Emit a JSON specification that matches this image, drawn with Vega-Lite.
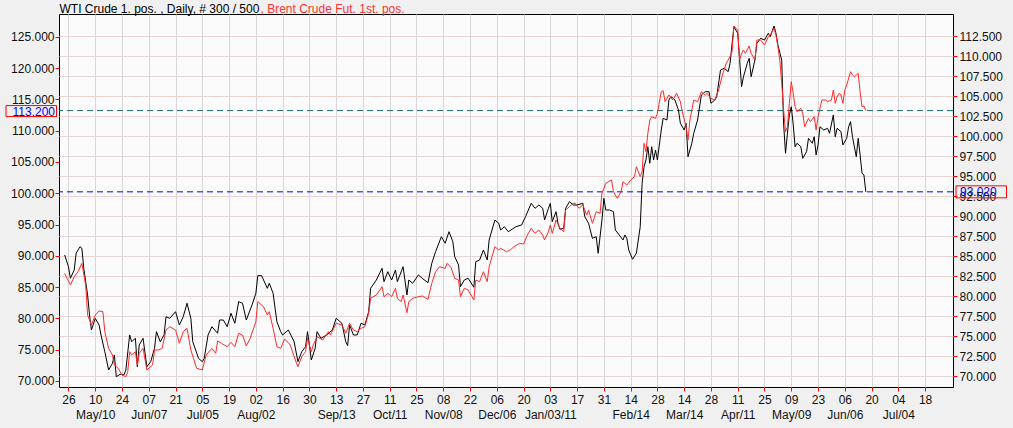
{
  "$schema": "https://vega.github.io/schema/vega-lite/v6.json",
  "width": 894,
  "height": 373,
  "autosize": {"type": "none"},
  "padding": {"left": 59, "top": 14, "right": 60, "bottom": 41},
  "background": "#f0f0f0",
  "config": {
    "view": {"stroke": "#000000", "strokeWidth": 1, "fill": "#fbfbfb"},
    "axis": {
      "labelFont": "Liberation Sans", "labelFontSize": 12, "labelColor": "#111111",
      "titleFont": "Liberation Sans", "titleFontSize": 12, "titleFontWeight": "normal",
      "domain": false, "tickColor": "#ff0000", "tickSize": 4
    }
  },
  "datasets": {
    "last": [
      {"series": "WTI", "price": 93.02},
      {"series": "Brent", "price": 113.2}
    ],
    "wti": [
      {"date": "2010-04-24", "price": 85.13}, {"date": "2010-04-26", "price": 83.66}, {"date": "2010-04-27", "price": 82.21},
      {"date": "2010-04-29", "price": 83.25}, {"date": "2010-04-30", "price": 85.34}, {"date": "2010-05-02", "price": 86.16},
      {"date": "2010-05-03", "price": 85.96}, {"date": "2010-05-04", "price": 83.46}, {"date": "2010-05-06", "price": 80.13},
      {"date": "2010-05-07", "price": 77.63}, {"date": "2010-05-08", "price": 75.75}, {"date": "2010-05-10", "price": 77.21},
      {"date": "2010-05-12", "price": 76.38}, {"date": "2010-05-13", "price": 75.13}, {"date": "2010-05-15", "price": 73.04},
      {"date": "2010-05-17", "price": 70.75}, {"date": "2010-05-19", "price": 71.59}, {"date": "2010-05-20", "price": 72.63},
      {"date": "2010-05-21", "price": 69.91}, {"date": "2010-05-23", "price": 70.21}, {"date": "2010-05-25", "price": 70.13},
      {"date": "2010-05-26", "price": 70.75}, {"date": "2010-05-28", "price": 75.13}, {"date": "2010-05-29", "price": 74.29},
      {"date": "2010-05-31", "price": 74.71}, {"date": "2010-06-01", "price": 71.16}, {"date": "2010-06-02", "price": 73.88},
      {"date": "2010-06-04", "price": 74.71}, {"date": "2010-06-06", "price": 71.16}, {"date": "2010-06-08", "price": 71.79},
      {"date": "2010-06-10", "price": 73.46}, {"date": "2010-06-11", "price": 75.54}, {"date": "2010-06-13", "price": 74.29},
      {"date": "2010-06-15", "price": 75.13}, {"date": "2010-06-16", "price": 77.41}, {"date": "2010-06-18", "price": 77.21},
      {"date": "2010-06-21", "price": 78.04}, {"date": "2010-06-23", "price": 76.38}, {"date": "2010-06-25", "price": 77.41},
      {"date": "2010-06-27", "price": 79.09}, {"date": "2010-06-29", "price": 77.21}, {"date": "2010-06-30", "price": 74.29},
      {"date": "2010-07-03", "price": 72.21}, {"date": "2010-07-05", "price": 71.79}, {"date": "2010-07-06", "price": 72.21},
      {"date": "2010-07-08", "price": 75.13}, {"date": "2010-07-10", "price": 76.16}, {"date": "2010-07-13", "price": 75.34},
      {"date": "2010-07-14", "price": 77.0}, {"date": "2010-07-16", "price": 77.0}, {"date": "2010-07-18", "price": 76.16},
      {"date": "2010-07-20", "price": 77.84}, {"date": "2010-07-22", "price": 76.59}, {"date": "2010-07-24", "price": 79.29},
      {"date": "2010-07-26", "price": 79.09}, {"date": "2010-07-28", "price": 77.0}, {"date": "2010-07-31", "price": 78.88},
      {"date": "2010-08-02", "price": 80.34}, {"date": "2010-08-03", "price": 82.54}, {"date": "2010-08-05", "price": 82.54},
      {"date": "2010-08-08", "price": 80.96}, {"date": "2010-08-09", "price": 81.59}, {"date": "2010-08-11", "price": 80.34},
      {"date": "2010-08-13", "price": 76.79}, {"date": "2010-08-15", "price": 75.54}, {"date": "2010-08-16", "price": 75.13},
      {"date": "2010-08-19", "price": 75.75}, {"date": "2010-08-22", "price": 74.29}, {"date": "2010-08-24", "price": 71.79},
      {"date": "2010-08-26", "price": 73.04}, {"date": "2010-08-28", "price": 73.66}, {"date": "2010-08-29", "price": 75.54},
      {"date": "2010-08-30", "price": 73.88}, {"date": "2010-08-31", "price": 72.0}, {"date": "2010-09-02", "price": 73.46},
      {"date": "2010-09-03", "price": 75.54}, {"date": "2010-09-05", "price": 74.71}, {"date": "2010-09-08", "price": 75.13},
      {"date": "2010-09-11", "price": 75.75}, {"date": "2010-09-13", "price": 77.21}, {"date": "2010-09-16", "price": 76.59},
      {"date": "2010-09-18", "price": 74.29}, {"date": "2010-09-19", "price": 73.79}, {"date": "2010-09-20", "price": 76.38},
      {"date": "2010-09-22", "price": 75.13}, {"date": "2010-09-24", "price": 75.13}, {"date": "2010-09-26", "price": 76.59},
      {"date": "2010-09-28", "price": 76.38}, {"date": "2010-09-30", "price": 78.04}, {"date": "2010-10-01", "price": 80.96},
      {"date": "2010-10-04", "price": 82.0}, {"date": "2010-10-07", "price": 83.46}, {"date": "2010-10-08", "price": 81.79},
      {"date": "2010-10-10", "price": 83.04}, {"date": "2010-10-12", "price": 82.0}, {"date": "2010-10-14", "price": 83.25},
      {"date": "2010-10-15", "price": 81.79}, {"date": "2010-10-18", "price": 83.66}, {"date": "2010-10-20", "price": 80.13},
      {"date": "2010-10-21", "price": 82.0}, {"date": "2010-10-23", "price": 81.59}, {"date": "2010-10-26", "price": 82.63},
      {"date": "2010-10-28", "price": 82.21}, {"date": "2010-10-31", "price": 81.66}, {"date": "2010-11-02", "price": 84.09},
      {"date": "2010-11-04", "price": 85.54}, {"date": "2010-11-07", "price": 87.41}, {"date": "2010-11-09", "price": 86.59},
      {"date": "2010-11-11", "price": 88.04}, {"date": "2010-11-13", "price": 86.79}, {"date": "2010-11-14", "price": 84.91},
      {"date": "2010-11-16", "price": 83.88}, {"date": "2010-11-17", "price": 81.16}, {"date": "2010-11-19", "price": 82.0},
      {"date": "2010-11-21", "price": 82.21}, {"date": "2010-11-24", "price": 81.09}, {"date": "2010-11-25", "price": 84.29},
      {"date": "2010-11-27", "price": 84.5}, {"date": "2010-11-29", "price": 85.75}, {"date": "2010-12-01", "price": 84.5},
      {"date": "2010-12-02", "price": 87.0}, {"date": "2010-12-05", "price": 89.5}, {"date": "2010-12-07", "price": 89.09},
      {"date": "2010-12-08", "price": 88.25}, {"date": "2010-12-10", "price": 88.66}, {"date": "2010-12-12", "price": 88.04},
      {"date": "2010-12-14", "price": 88.34}, {"date": "2010-12-16", "price": 88.66}, {"date": "2010-12-19", "price": 88.88},
      {"date": "2010-12-21", "price": 89.91}, {"date": "2010-12-24", "price": 91.59}, {"date": "2010-12-26", "price": 90.96},
      {"date": "2010-12-28", "price": 91.38}, {"date": "2010-12-30", "price": 90.96}, {"date": "2010-12-31", "price": 89.5},
      {"date": "2011-01-02", "price": 90.96}, {"date": "2011-01-03", "price": 91.59}, {"date": "2011-01-04", "price": 89.29},
      {"date": "2011-01-06", "price": 90.54}, {"date": "2011-01-07", "price": 89.09}, {"date": "2011-01-08", "price": 88.34},
      {"date": "2011-01-10", "price": 88.46}, {"date": "2011-01-11", "price": 90.96}, {"date": "2011-01-13", "price": 91.79},
      {"date": "2011-01-15", "price": 91.38}, {"date": "2011-01-17", "price": 91.38}, {"date": "2011-01-20", "price": 91.59},
      {"date": "2011-01-21", "price": 89.91}, {"date": "2011-01-23", "price": 89.09}, {"date": "2011-01-25", "price": 87.21},
      {"date": "2011-01-27", "price": 87.41}, {"date": "2011-01-28", "price": 85.34}, {"date": "2011-01-30", "price": 89.5},
      {"date": "2011-01-31", "price": 92.21}, {"date": "2011-02-01", "price": 90.75}, {"date": "2011-02-03", "price": 90.75},
      {"date": "2011-02-05", "price": 90.54}, {"date": "2011-02-06", "price": 88.25}, {"date": "2011-02-08", "price": 87.63},
      {"date": "2011-02-10", "price": 87.0}, {"date": "2011-02-11", "price": 87.63}, {"date": "2011-02-12", "price": 87.21},
      {"date": "2011-02-13", "price": 85.75}, {"date": "2011-02-15", "price": 84.59}, {"date": "2011-02-17", "price": 85.34},
      {"date": "2011-02-19", "price": 88.66}, {"date": "2011-02-20", "price": 94.09}, {"date": "2011-02-21", "price": 96.16},
      {"date": "2011-02-22", "price": 97.0}, {"date": "2011-02-23", "price": 98.66}, {"date": "2011-02-24", "price": 96.59},
      {"date": "2011-02-25", "price": 98.66}, {"date": "2011-02-26", "price": 97.0}, {"date": "2011-02-27", "price": 98.25},
      {"date": "2011-02-28", "price": 97.0}, {"date": "2011-03-02", "price": 100.75}, {"date": "2011-03-03", "price": 102.21},
      {"date": "2011-03-05", "price": 102.0}, {"date": "2011-03-06", "price": 104.5}, {"date": "2011-03-07", "price": 104.91},
      {"date": "2011-03-09", "price": 104.59}, {"date": "2011-03-11", "price": 103.25}, {"date": "2011-03-12", "price": 101.59},
      {"date": "2011-03-14", "price": 100.75}, {"date": "2011-03-15", "price": 101.59}, {"date": "2011-03-16", "price": 97.41},
      {"date": "2011-03-18", "price": 99.09}, {"date": "2011-03-19", "price": 100.34}, {"date": "2011-03-21", "price": 102.0},
      {"date": "2011-03-23", "price": 105.13}, {"date": "2011-03-25", "price": 105.54}, {"date": "2011-03-27", "price": 105.54},
      {"date": "2011-03-28", "price": 104.09}, {"date": "2011-03-30", "price": 104.5}, {"date": "2011-03-31", "price": 104.91},
      {"date": "2011-04-02", "price": 108.25}, {"date": "2011-04-04", "price": 108.46}, {"date": "2011-04-06", "price": 108.04},
      {"date": "2011-04-07", "price": 109.09}, {"date": "2011-04-09", "price": 113.66}, {"date": "2011-04-11", "price": 112.84},
      {"date": "2011-04-12", "price": 109.5}, {"date": "2011-04-13", "price": 106.16}, {"date": "2011-04-14", "price": 107.41},
      {"date": "2011-04-16", "price": 109.09}, {"date": "2011-04-17", "price": 109.71}, {"date": "2011-04-18", "price": 107.41},
      {"date": "2011-04-20", "price": 109.5}, {"date": "2011-04-21", "price": 111.59}, {"date": "2011-04-23", "price": 112.21},
      {"date": "2011-04-25", "price": 112.0}, {"date": "2011-04-27", "price": 112.84}, {"date": "2011-04-28", "price": 112.41},
      {"date": "2011-04-30", "price": 113.75}, {"date": "2011-05-01", "price": 112.84}, {"date": "2011-05-02", "price": 111.38},
      {"date": "2011-05-04", "price": 109.5}, {"date": "2011-05-05", "price": 101.5}, {"date": "2011-05-06", "price": 97.84},
      {"date": "2011-05-07", "price": 100.34}, {"date": "2011-05-08", "price": 102.63}, {"date": "2011-05-09", "price": 103.66},
      {"date": "2011-05-10", "price": 101.5}, {"date": "2011-05-11", "price": 98.66}, {"date": "2011-05-12", "price": 99.09},
      {"date": "2011-05-14", "price": 98.66}, {"date": "2011-05-15", "price": 97.21}, {"date": "2011-05-17", "price": 98.04},
      {"date": "2011-05-18", "price": 99.71}, {"date": "2011-05-20", "price": 99.09}, {"date": "2011-05-21", "price": 99.91},
      {"date": "2011-05-22", "price": 97.63}, {"date": "2011-05-23", "price": 98.88}, {"date": "2011-05-24", "price": 101.16},
      {"date": "2011-05-26", "price": 100.75}, {"date": "2011-05-28", "price": 100.96}, {"date": "2011-05-29", "price": 100.34},
      {"date": "2011-05-31", "price": 102.63}, {"date": "2011-06-01", "price": 99.91}, {"date": "2011-06-02", "price": 100.96},
      {"date": "2011-06-04", "price": 100.54}, {"date": "2011-06-05", "price": 98.88}, {"date": "2011-06-07", "price": 99.71},
      {"date": "2011-06-08", "price": 101.16}, {"date": "2011-06-09", "price": 101.79}, {"date": "2011-06-10", "price": 99.91},
      {"date": "2011-06-12", "price": 97.41}, {"date": "2011-06-13", "price": 99.71}, {"date": "2011-06-14", "price": 97.63},
      {"date": "2011-06-15", "price": 95.34}, {"date": "2011-06-16", "price": 95.13}, {"date": "2011-06-17", "price": 93.02}
    ],
    "brent": [
      {"date": "2010-04-24", "price": 87.2}, {"date": "2010-04-27", "price": 85.34}, {"date": "2010-04-29", "price": 86.66},
      {"date": "2010-05-01", "price": 87.46}, {"date": "2010-05-03", "price": 88.8}, {"date": "2010-05-05", "price": 85.34},
      {"date": "2010-05-06", "price": 80.54}, {"date": "2010-05-08", "price": 78.95}, {"date": "2010-05-10", "price": 80.54},
      {"date": "2010-05-12", "price": 81.18}, {"date": "2010-05-14", "price": 81.07}, {"date": "2010-05-15", "price": 77.88},
      {"date": "2010-05-17", "price": 75.22}, {"date": "2010-05-19", "price": 74.15}, {"date": "2010-05-20", "price": 72.56},
      {"date": "2010-05-22", "price": 72.03}, {"date": "2010-05-24", "price": 70.96}, {"date": "2010-05-26", "price": 70.69},
      {"date": "2010-05-27", "price": 71.49}, {"date": "2010-05-28", "price": 74.68}, {"date": "2010-05-29", "price": 74.15},
      {"date": "2010-05-31", "price": 74.68}, {"date": "2010-06-01", "price": 72.56}, {"date": "2010-06-02", "price": 74.42},
      {"date": "2010-06-04", "price": 75.22}, {"date": "2010-06-06", "price": 71.76}, {"date": "2010-06-09", "price": 72.56},
      {"date": "2010-06-10", "price": 74.95}, {"date": "2010-06-12", "price": 74.95}, {"date": "2010-06-14", "price": 75.22},
      {"date": "2010-06-16", "price": 78.15}, {"date": "2010-06-18", "price": 78.67}, {"date": "2010-06-21", "price": 78.15},
      {"date": "2010-06-23", "price": 76.02}, {"date": "2010-06-25", "price": 77.88}, {"date": "2010-06-27", "price": 78.42},
      {"date": "2010-06-29", "price": 74.95}, {"date": "2010-07-02", "price": 72.03}, {"date": "2010-07-05", "price": 71.76},
      {"date": "2010-07-07", "price": 74.15}, {"date": "2010-07-10", "price": 75.22}, {"date": "2010-07-12", "price": 74.42},
      {"date": "2010-07-13", "price": 76.39}, {"date": "2010-07-15", "price": 76.02}, {"date": "2010-07-18", "price": 75.48},
      {"date": "2010-07-20", "price": 76.18}, {"date": "2010-07-22", "price": 75.48}, {"date": "2010-07-24", "price": 77.62},
      {"date": "2010-07-26", "price": 77.35}, {"date": "2010-07-28", "price": 75.59}, {"date": "2010-07-30", "price": 76.82},
      {"date": "2010-08-02", "price": 79.47}, {"date": "2010-08-03", "price": 82.67}, {"date": "2010-08-06", "price": 81.87},
      {"date": "2010-08-08", "price": 80.54}, {"date": "2010-08-09", "price": 81.07}, {"date": "2010-08-11", "price": 78.42},
      {"date": "2010-08-13", "price": 75.48}, {"date": "2010-08-15", "price": 75.22}, {"date": "2010-08-17", "price": 76.71},
      {"date": "2010-08-20", "price": 75.75}, {"date": "2010-08-22", "price": 73.88}, {"date": "2010-08-24", "price": 72.28},
      {"date": "2010-08-26", "price": 73.88}, {"date": "2010-08-28", "price": 74.68}, {"date": "2010-08-29", "price": 76.82},
      {"date": "2010-08-31", "price": 74.68}, {"date": "2010-09-01", "price": 75.75}, {"date": "2010-09-03", "price": 77.08},
      {"date": "2010-09-06", "price": 76.55}, {"date": "2010-09-09", "price": 77.88}, {"date": "2010-09-10", "price": 77.35},
      {"date": "2010-09-13", "price": 79.22}, {"date": "2010-09-16", "price": 78.95}, {"date": "2010-09-18", "price": 77.62},
      {"date": "2010-09-20", "price": 79.22}, {"date": "2010-09-22", "price": 78.15}, {"date": "2010-09-24", "price": 77.88},
      {"date": "2010-09-26", "price": 78.42}, {"date": "2010-09-28", "price": 78.67}, {"date": "2010-09-30", "price": 80.81},
      {"date": "2010-10-01", "price": 83.21}, {"date": "2010-10-04", "price": 83.74}, {"date": "2010-10-07", "price": 85.06},
      {"date": "2010-10-08", "price": 83.47}, {"date": "2010-10-10", "price": 84.01}, {"date": "2010-10-12", "price": 83.47},
      {"date": "2010-10-14", "price": 84.81}, {"date": "2010-10-15", "price": 83.21}, {"date": "2010-10-17", "price": 82.67},
      {"date": "2010-10-18", "price": 83.74}, {"date": "2010-10-20", "price": 80.91}, {"date": "2010-10-21", "price": 82.67},
      {"date": "2010-10-23", "price": 83.21}, {"date": "2010-10-26", "price": 83.47}, {"date": "2010-10-28", "price": 83.58},
      {"date": "2010-10-31", "price": 83.05}, {"date": "2010-11-02", "price": 85.61}, {"date": "2010-11-04", "price": 87.46},
      {"date": "2010-11-06", "price": 88.26}, {"date": "2010-11-09", "price": 88.0}, {"date": "2010-11-10", "price": 88.8},
      {"date": "2010-11-12", "price": 88.16}, {"date": "2010-11-14", "price": 86.41}, {"date": "2010-11-16", "price": 86.13},
      {"date": "2010-11-17", "price": 83.47}, {"date": "2010-11-19", "price": 84.81}, {"date": "2010-11-21", "price": 84.54},
      {"date": "2010-11-24", "price": 82.94}, {"date": "2010-11-25", "price": 86.13}, {"date": "2010-11-27", "price": 85.86},
      {"date": "2010-11-29", "price": 87.46}, {"date": "2010-12-01", "price": 85.86}, {"date": "2010-12-02", "price": 88.26},
      {"date": "2010-12-05", "price": 91.45}, {"date": "2010-12-07", "price": 90.93}, {"date": "2010-12-08", "price": 91.2},
      {"date": "2010-12-11", "price": 90.65}, {"date": "2010-12-13", "price": 90.93}, {"date": "2010-12-15", "price": 91.45},
      {"date": "2010-12-18", "price": 92.0}, {"date": "2010-12-20", "price": 91.88}, {"date": "2010-12-22", "price": 93.32},
      {"date": "2010-12-24", "price": 94.39}, {"date": "2010-12-26", "price": 93.59}, {"date": "2010-12-28", "price": 94.12},
      {"date": "2010-12-30", "price": 93.32}, {"date": "2010-12-31", "price": 92.52}, {"date": "2011-01-02", "price": 93.85},
      {"date": "2011-01-03", "price": 94.92}, {"date": "2011-01-04", "price": 93.59}, {"date": "2011-01-06", "price": 95.72},
      {"date": "2011-01-08", "price": 94.39}, {"date": "2011-01-10", "price": 93.85}, {"date": "2011-01-11", "price": 97.32},
      {"date": "2011-01-13", "price": 97.84}, {"date": "2011-01-15", "price": 98.39}, {"date": "2011-01-16", "price": 98.39},
      {"date": "2011-01-18", "price": 97.59}, {"date": "2011-01-20", "price": 98.12}, {"date": "2011-01-22", "price": 96.52},
      {"date": "2011-01-23", "price": 97.32}, {"date": "2011-01-25", "price": 95.19}, {"date": "2011-01-27", "price": 97.04},
      {"date": "2011-01-29", "price": 96.79}, {"date": "2011-01-30", "price": 99.98}, {"date": "2011-02-01", "price": 101.58},
      {"date": "2011-02-04", "price": 102.11}, {"date": "2011-02-05", "price": 100.24}, {"date": "2011-02-07", "price": 99.19},
      {"date": "2011-02-09", "price": 100.24}, {"date": "2011-02-10", "price": 101.84}, {"date": "2011-02-12", "price": 101.31},
      {"date": "2011-02-14", "price": 102.11}, {"date": "2011-02-16", "price": 102.64}, {"date": "2011-02-17", "price": 104.23},
      {"date": "2011-02-19", "price": 102.64}, {"date": "2011-02-20", "price": 103.43}, {"date": "2011-02-21", "price": 107.97},
      {"date": "2011-02-22", "price": 106.63}, {"date": "2011-02-23", "price": 109.57}, {"date": "2011-02-24", "price": 111.69},
      {"date": "2011-02-25", "price": 112.22}, {"date": "2011-02-27", "price": 111.96}, {"date": "2011-02-28", "price": 112.76},
      {"date": "2011-03-02", "price": 116.21}, {"date": "2011-03-03", "price": 116.37}, {"date": "2011-03-04", "price": 114.62},
      {"date": "2011-03-06", "price": 115.69}, {"date": "2011-03-08", "price": 114.89}, {"date": "2011-03-10", "price": 115.96},
      {"date": "2011-03-12", "price": 114.62}, {"date": "2011-03-13", "price": 113.02}, {"date": "2011-03-15", "price": 110.62},
      {"date": "2011-03-16", "price": 108.5}, {"date": "2011-03-17", "price": 111.69}, {"date": "2011-03-19", "price": 114.89},
      {"date": "2011-03-21", "price": 114.62}, {"date": "2011-03-23", "price": 116.21}, {"date": "2011-03-25", "price": 115.69},
      {"date": "2011-03-26", "price": 115.96}, {"date": "2011-03-28", "price": 115.16}, {"date": "2011-03-30", "price": 114.89},
      {"date": "2011-04-01", "price": 116.49}, {"date": "2011-04-03", "price": 118.88}, {"date": "2011-04-05", "price": 120.75},
      {"date": "2011-04-07", "price": 121.81}, {"date": "2011-04-08", "price": 122.6}, {"date": "2011-04-09", "price": 126.71},
      {"date": "2011-04-11", "price": 126.07}, {"date": "2011-04-12", "price": 121.28}, {"date": "2011-04-13", "price": 122.35},
      {"date": "2011-04-14", "price": 122.88}, {"date": "2011-04-15", "price": 122.35}, {"date": "2011-04-17", "price": 123.51},
      {"date": "2011-04-18", "price": 122.35}, {"date": "2011-04-20", "price": 121.28}, {"date": "2011-04-21", "price": 124.47},
      {"date": "2011-04-23", "price": 124.47}, {"date": "2011-04-25", "price": 123.67}, {"date": "2011-04-27", "price": 125.0},
      {"date": "2011-04-28", "price": 125.27}, {"date": "2011-04-30", "price": 126.34}, {"date": "2011-05-01", "price": 125.27},
      {"date": "2011-05-02", "price": 123.4}, {"date": "2011-05-03", "price": 121.28}, {"date": "2011-05-04", "price": 117.56},
      {"date": "2011-05-05", "price": 113.29}, {"date": "2011-05-06", "price": 109.82}, {"date": "2011-05-07", "price": 110.62},
      {"date": "2011-05-08", "price": 114.36}, {"date": "2011-05-09", "price": 117.81}, {"date": "2011-05-10", "price": 115.96},
      {"date": "2011-05-11", "price": 113.82}, {"date": "2011-05-12", "price": 113.02}, {"date": "2011-05-14", "price": 113.56},
      {"date": "2011-05-15", "price": 112.76}, {"date": "2011-05-16", "price": 110.62}, {"date": "2011-05-18", "price": 111.96},
      {"date": "2011-05-19", "price": 111.42}, {"date": "2011-05-21", "price": 112.22}, {"date": "2011-05-22", "price": 110.1},
      {"date": "2011-05-23", "price": 112.22}, {"date": "2011-05-25", "price": 114.89}, {"date": "2011-05-27", "price": 114.89},
      {"date": "2011-05-28", "price": 114.62}, {"date": "2011-05-30", "price": 114.89}, {"date": "2011-05-31", "price": 116.49},
      {"date": "2011-06-01", "price": 114.36}, {"date": "2011-06-02", "price": 115.42}, {"date": "2011-06-03", "price": 115.96},
      {"date": "2011-06-04", "price": 115.69}, {"date": "2011-06-05", "price": 114.36}, {"date": "2011-06-06", "price": 116.49},
      {"date": "2011-06-07", "price": 117.28}, {"date": "2011-06-09", "price": 119.41}, {"date": "2011-06-10", "price": 118.88},
      {"date": "2011-06-11", "price": 118.61}, {"date": "2011-06-13", "price": 119.15}, {"date": "2011-06-14", "price": 116.21},
      {"date": "2011-06-15", "price": 113.82}, {"date": "2011-06-16", "price": 113.93}, {"date": "2011-06-17", "price": 113.2}
    ]
  },
  "layer": [
    {
      "data": {"name": "last"},
      "transform": [{"filter": "datum.series == 'WTI'"}],
      "mark": {"type": "rule", "color": "#0000ff", "strokeWidth": 1, "strokeDash": [6, 4]},
      "encoding": {
        "y": {"field": "price", "type": "quantitative", "scale": {"domain": [68.625, 115.25], "nice": false, "zero": false}, "axis": null}
      }
    },
    {
      "data": {"name": "last"},
      "transform": [{"filter": "datum.series == 'Brent'"}],
      "mark": {"type": "rule", "color": "#1f6b6b", "strokeWidth": 1, "strokeDash": [6, 4]},
      "encoding": {
        "y": {"field": "price", "type": "quantitative", "scale": {"domain": [69.04, 128.63], "nice": false, "zero": false}, "axis": null}
      }
    },
    {
      "data": {"name": "wti"},
      "mark": {"type": "line", "color": "#000000", "strokeWidth": 1},
      "encoding": {
        "x": {
          "field": "date", "type": "temporal",
          "scale": {"type": "utc", "domain": [1271811600000, 1312207200000]},
          "axis": {
            "orient": "bottom", "title": null, "grid": true, "gridColor": "#d6d6d6",
            "labelPadding": 3, "labelFlush": false, "labelOverlap": false, "format": "%d",
            "values": [
              1272240000000, 1273449600000, 1274659200000, 1275868800000, 1277078400000, 1278288000000,
              1279497600000, 1280707200000, 1281916800000, 1283126400000, 1284336000000, 1285545600000,
              1286755200000, 1287964800000, 1289174400000, 1290384000000, 1291593600000, 1292803200000,
              1294012800000, 1295222400000, 1296432000000, 1297641600000, 1298851200000, 1300060800000,
              1301270400000, 1302480000000, 1303689600000, 1304899200000, 1306108800000, 1307318400000,
              1308528000000, 1309737600000, 1310947200000
            ]
          }
        },
        "y": {
          "field": "price", "type": "quantitative",
          "scale": {"domain": [68.625, 115.25], "nice": false, "zero": false},
          "axis": {
            "orient": "right", "format": ".3f", "labelPadding": 2, "labelOverlap": false,
            "values": [70, 72.5, 75, 77.5, 80, 82.5, 85, 87.5, 90, 92.5, 95, 97.5, 100, 102.5, 105, 107.5, 110, 112.5],
            "grid": true, "gridColor": "#e8d4d4",
            "title": "WTI Crude 1. pos. , Daily, # 300 / 500", "titleColor": "#000000",
            "titleAngle": 0, "titleX": -894, "titleY": -2, "titleAlign": "left", "titleBaseline": "alphabetic"
          }
        }
      }
    },
    {
      "data": {"name": "brent"},
      "mark": {"type": "line", "color": "#ff2a2a", "strokeWidth": 1},
      "encoding": {
        "x": {
          "field": "date", "type": "temporal",
          "scale": {"type": "utc", "domain": [1271811600000, 1312207200000]},
          "axis": {
            "orient": "bottom", "title": null, "grid": false, "ticks": false, "tickSize": 0,
            "labelPadding": 22, "labelFlush": false, "labelOverlap": false,
            "values": [
              1273449600000, 1275868800000, 1278288000000, 1280707200000, 1284336000000, 1286755200000,
              1289174400000, 1291593600000, 1294012800000, 1297641600000, 1300060800000, 1302480000000,
              1304899200000, 1307318400000, 1309737600000
            ],
            "labelExpr": "utcmonth(datum.value) == 0 ? utcFormat(datum.value, '%b/%d/%y') : utcFormat(datum.value, '%b/%d')"
          }
        },
        "y": {
          "field": "price", "type": "quantitative",
          "scale": {"domain": [69.04, 128.63], "nice": false, "zero": false},
          "axis": {
            "orient": "left", "format": ".3f", "labelPadding": 1, "labelOverlap": false,
            "values": [70, 75, 80, 85, 90, 95, 100, 105, 110, 115, 120, 125],
            "grid": false,
            "title": ", Brent Crude Fut. 1st. pos.", "titleColor": "#ff3333",
            "titleAngle": 0, "titleX": 201, "titleY": -2, "titleAlign": "left", "titleBaseline": "alphabetic"
          }
        }
      }
    },
    {
      "data": {"name": "last"},
      "transform": [{"filter": "datum.series == 'WTI'"}],
      "mark": {"type": "rect", "filled": false, "color": "#ff0000", "strokeWidth": 1, "yOffset": -6, "y2Offset": 6},
      "encoding": {
        "x": {"value": 897},
        "x2": {"value": 947.5},
        "y": {"field": "price", "type": "quantitative", "scale": {"domain": [68.625, 115.25], "nice": false, "zero": false}, "axis": null},
        "y2": {"field": "price"}
      }
    },
    {
      "data": {"name": "last"},
      "transform": [{"filter": "datum.series == 'WTI'"}],
      "mark": {"type": "text", "align": "left", "baseline": "middle", "font": "Liberation Sans", "fontSize": 12, "color": "#0000ff"},
      "encoding": {
        "x": {"value": 901},
        "y": {"field": "price", "type": "quantitative", "scale": {"domain": [68.625, 115.25], "nice": false, "zero": false}, "axis": null},
        "text": {"field": "price", "type": "quantitative", "format": ".3f"}
      }
    },
    {
      "data": {"name": "last"},
      "transform": [{"filter": "datum.series == 'Brent'"}],
      "mark": {"type": "rect", "filled": false, "color": "#ff0000", "strokeWidth": 1, "yOffset": -5, "y2Offset": 6},
      "encoding": {
        "x": {"value": -53},
        "x2": {"value": -2.5},
        "y": {"field": "price", "type": "quantitative", "scale": {"domain": [69.04, 128.63], "nice": false, "zero": false}, "axis": null},
        "y2": {"field": "price"}
      }
    },
    {
      "data": {"name": "last"},
      "transform": [{"filter": "datum.series == 'Brent'"}],
      "mark": {"type": "text", "align": "right", "baseline": "middle", "dy": 1, "font": "Liberation Sans", "fontSize": 12, "color": "#0000ff"},
      "encoding": {
        "x": {"value": -4},
        "y": {"field": "price", "type": "quantitative", "scale": {"domain": [69.04, 128.63], "nice": false, "zero": false}, "axis": null},
        "text": {"field": "price", "type": "quantitative", "format": ".3f"}
      }
    }
  ],
  "resolve": {"scale": {"y": "independent"}, "axis": {"x": "independent"}}
}
